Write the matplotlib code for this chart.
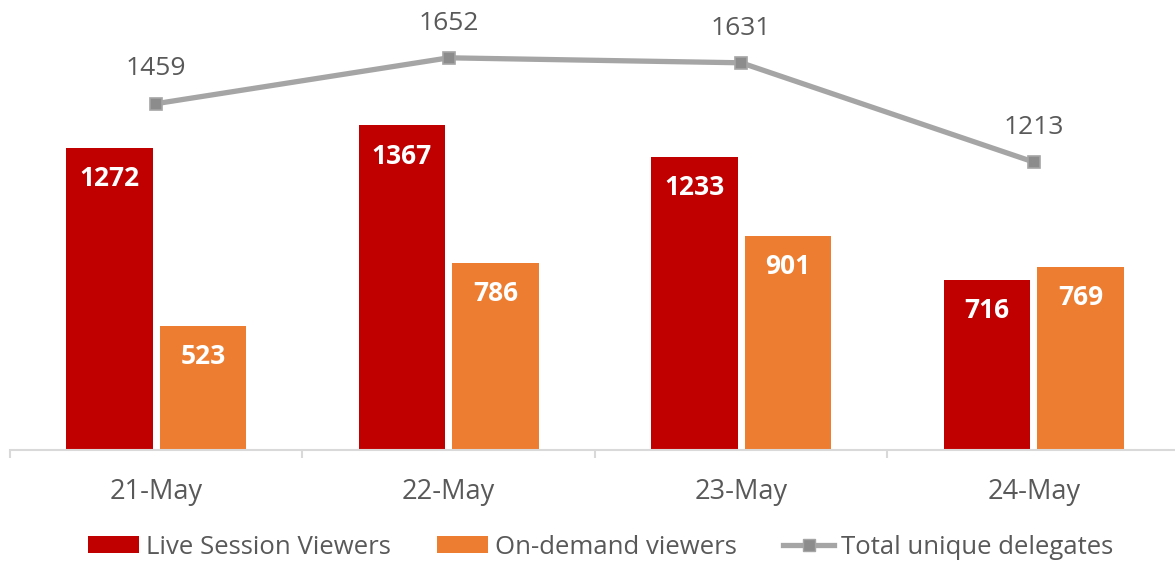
import matplotlib
matplotlib.use("Agg")
import matplotlib.pyplot as plt
import numpy as np
from matplotlib.lines import Line2D
from matplotlib.patches import Patch

categories = ["21-May", "22-May", "23-May", "24-May"]
live_viewers = [1272, 1367, 1233, 716]
ondemand_viewers = [523, 786, 901, 769]
total_delegates = [1459, 1652, 1631, 1213]

series_names = ["Live Session Viewers", "On-demand viewers", "Total unique delegates"]

RED = "#C00000"
ORANGE = "#ED7D31"
GRAY = "#A5A5A5"
TEXT = "#595959"

plt.rcParams['font.family'] = ['Open Sans', 'DejaVu Sans']

fig = plt.figure(figsize=(11.75, 5.71), dpi=100)
ax = fig.add_axes([10/1175, (571-450)/571, 1170/1175, 1800*0.2374/571])

x = np.arange(len(categories))
w = 0.297
off = 0.16
b1 = ax.bar(x - off, live_viewers, width=w, color=RED, zorder=2)
b2 = ax.bar(x + off, ondemand_viewers, width=w, color=ORANGE, zorder=2)
ax.plot(x, total_delegates, color=GRAY, lw=3.8, marker='s', markersize=8.5,
        markerfacecolor="#8C8C8C", markeredgecolor=GRAY, markeredgewidth=1.2, zorder=3)

for bars, vals in ((b1, live_viewers), (b2, ondemand_viewers)):
    for b, v in zip(bars, vals):
        ax.annotate(f"{v}", (b.get_x() + b.get_width()/2, v), xytext=(0, -22),
                    textcoords='offset points', ha='center', va='center',
                    color='white', fontweight='bold', fontsize=19)
for xi, v in zip(x, total_delegates):
    ax.annotate(f"{v}", (xi, v), xytext=(0, 25), textcoords='offset points',
                ha='center', va='center', color=TEXT, fontsize=19)

ax.set_xlim(-0.5, len(categories) - 0.5)
ax.set_ylim(0, 1800)
for s in ("top", "right", "left"):
    ax.spines[s].set_visible(False)
ax.spines["bottom"].set_color("#D9D9D9")
ax.spines["bottom"].set_linewidth(1.5)
ax.set_yticks([])
ax.set_xticks(np.arange(len(categories) + 1) - 0.5)
ax.set_xticklabels([])
ax.tick_params(axis='x', which='major', length=6, width=1.5, color="#D9D9D9", direction='out')
ax.set_xticks(x, minor=True)
ax.set_xticklabels(categories, minor=True)
ax.tick_params(axis='x', which='minor', length=0, pad=20, labelsize=19.5, labelcolor=TEXT)

handles = [Patch(facecolor=RED), Patch(facecolor=ORANGE),
           Line2D([], [], color=GRAY, lw=3.8, marker='s', markersize=8.5,
                  markerfacecolor="#8C8C8C", markeredgecolor=GRAY)]
fig.legend(handles, series_names, loc='center', bbox_to_anchor=(0.511, 1 - 547/571),
           ncol=3, frameon=False, fontsize=18.5, labelcolor=TEXT,
           handlelength=2.0, handleheight=0.63, handletextpad=0.25, columnspacing=1.8)

fig.savefig("out.png", dpi=100)
